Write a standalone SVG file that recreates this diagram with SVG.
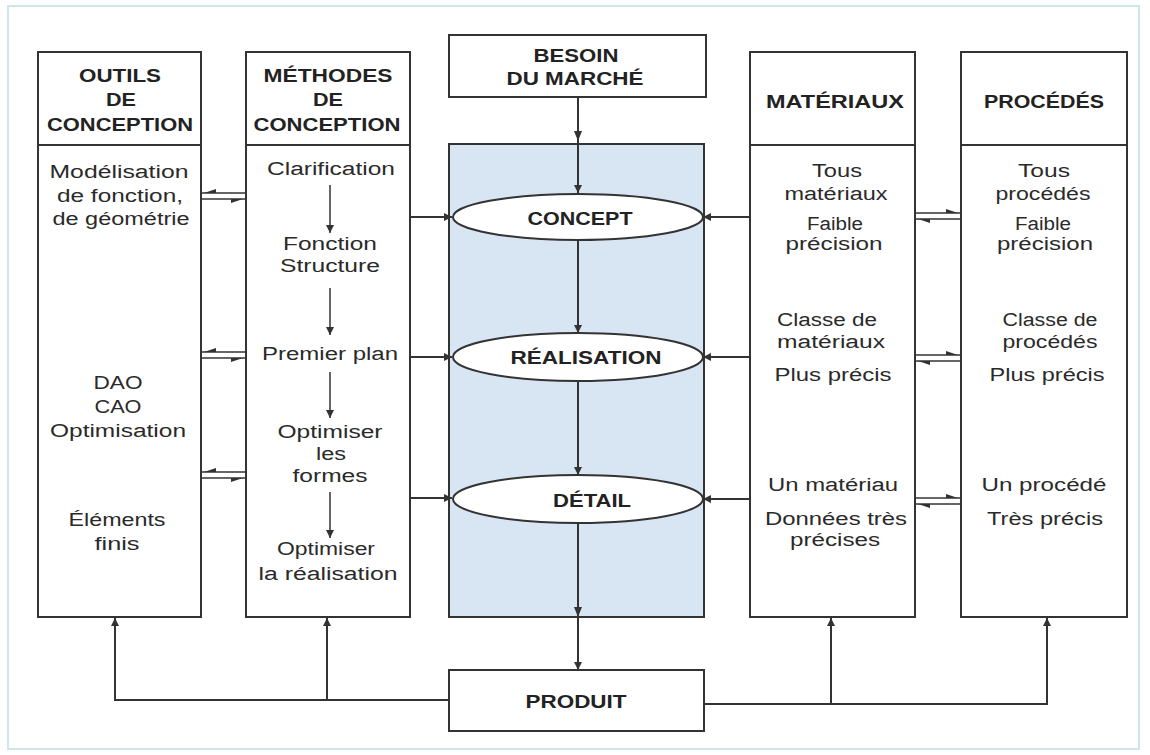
<svg xmlns="http://www.w3.org/2000/svg" width="1150" height="755" viewBox="0 0 1150 755">
<defs>
<style>
.box{fill:#fff;stroke:#333;stroke-width:2}
.blue{fill:#d8e5f3;stroke:#333;stroke-width:2}
.ell{fill:#fff;stroke:#333;stroke-width:2}
.ln{fill:none;stroke:#333;stroke-width:2}
.tn{fill:none;stroke:#333;stroke-width:1.5}
.hd{font-family:"Liberation Sans",Arial,sans-serif;font-weight:bold;font-size:18.5px;fill:#222;text-anchor:middle}
.tx{font-family:"Liberation Sans",Arial,sans-serif;font-size:18px;fill:#2a2a2a;text-anchor:middle}
.ah{fill:#333}
</style>
<marker id="arr" viewBox="0 0 10 10" refX="10" refY="5" markerWidth="9" markerHeight="8" markerUnits="userSpaceOnUse" orient="auto">
<path d="M0,0 L10,5 L0,10 Z" fill="#333"/>
</marker>
</defs>
<rect x="0" y="0" width="1150" height="755" fill="#fff"/>
<rect x="8" y="6" width="1131" height="743" fill="none" stroke="#cfe6e8" stroke-width="2"/>

<g id="outils">
<rect class="box" x="38" y="52" width="163" height="565"/>
<line class="ln" x1="38" y1="145" x2="201" y2="145"/>
<text class="hd" x="120" y="82" textLength="82" lengthAdjust="spacingAndGlyphs">OUTILS</text>
<text class="hd" x="121" y="106" textLength="30" lengthAdjust="spacingAndGlyphs">DE</text>
<text class="hd" x="120" y="131" textLength="146" lengthAdjust="spacingAndGlyphs">CONCEPTION</text>
<text class="tx" x="119" y="178" textLength="139" lengthAdjust="spacingAndGlyphs">Modélisation</text>
<text class="tx" x="120" y="202" textLength="126" lengthAdjust="spacingAndGlyphs">de fonction,</text>
<text class="tx" x="121" y="225" textLength="137" lengthAdjust="spacingAndGlyphs">de géométrie</text>
<text class="tx" x="118" y="389" textLength="49" lengthAdjust="spacingAndGlyphs">DAO</text>
<text class="tx" x="118" y="413" textLength="47" lengthAdjust="spacingAndGlyphs">CAO</text>
<text class="tx" x="118" y="437" textLength="136" lengthAdjust="spacingAndGlyphs">Optimisation</text>
<text class="tx" x="117" y="526" textLength="97" lengthAdjust="spacingAndGlyphs">Éléments</text>
<text class="tx" x="117" y="550" textLength="45" lengthAdjust="spacingAndGlyphs">finis</text>
</g>

<g id="methodes">
<rect class="box" x="246" y="52" width="164" height="565"/>
<line class="ln" x1="246" y1="145" x2="410" y2="145"/>
<text class="hd" x="328" y="82" textLength="129" lengthAdjust="spacingAndGlyphs">MÉTHODES</text>
<text class="hd" x="328" y="106" textLength="30" lengthAdjust="spacingAndGlyphs">DE</text>
<text class="hd" x="327" y="131" textLength="147" lengthAdjust="spacingAndGlyphs">CONCEPTION</text>
<text class="tx" x="331" y="175" textLength="128" lengthAdjust="spacingAndGlyphs">Clarification</text>
<text class="tx" x="330" y="250" textLength="94" lengthAdjust="spacingAndGlyphs">Fonction</text>
<text class="tx" x="330" y="272" textLength="100" lengthAdjust="spacingAndGlyphs">Structure</text>
<text class="tx" x="330" y="360" textLength="136" lengthAdjust="spacingAndGlyphs">Premier plan</text>
<text class="tx" x="330" y="438" textLength="105" lengthAdjust="spacingAndGlyphs">Optimiser</text>
<text class="tx" x="331" y="460" textLength="30" lengthAdjust="spacingAndGlyphs">les</text>
<text class="tx" x="330" y="482" textLength="75" lengthAdjust="spacingAndGlyphs">formes</text>
<text class="tx" x="326" y="555" textLength="98" lengthAdjust="spacingAndGlyphs">Optimiser</text>
<text class="tx" x="328" y="580" textLength="139" lengthAdjust="spacingAndGlyphs">la réalisation</text>
<line class="tn" x1="330" y1="185" x2="330" y2="233" marker-end="url(#arr)"/>
<line class="tn" x1="330" y1="288" x2="330" y2="335" marker-end="url(#arr)"/>
<line class="tn" x1="330" y1="372" x2="330" y2="418" marker-end="url(#arr)"/>
<line class="tn" x1="330" y1="492" x2="330" y2="538" marker-end="url(#arr)"/>
</g>

<g id="besoin">
<rect class="box" x="449" y="35" width="257" height="62"/>
<text class="hd" x="576" y="62" textLength="85" lengthAdjust="spacingAndGlyphs">BESOIN</text>
<text class="hd" x="575" y="85" textLength="137" lengthAdjust="spacingAndGlyphs">DU MARCHÉ</text>
</g>

<g id="centre">
<rect class="blue" x="449" y="144" width="255" height="473"/>
</g>

<g id="connectors">
<line class="ln" x1="578" y1="97" x2="578" y2="193" marker-end="url(#arr)"/>
<polygon class="ah" points="574,131 582,131 578,141"/>
<line class="ln" x1="578" y1="240" x2="578" y2="333" marker-end="url(#arr)"/>
<line class="ln" x1="578" y1="381" x2="578" y2="475" marker-end="url(#arr)"/>
<line class="ln" x1="578" y1="523" x2="578" y2="670" marker-end="url(#arr)"/>
<polygon class="ah" points="574,607 582,607 578,617"/>
<line class="ln" x1="410" y1="217" x2="452" y2="217" marker-end="url(#arr)"/>
<line class="ln" x1="410" y1="357" x2="452" y2="357" marker-end="url(#arr)"/>
<line class="ln" x1="410" y1="498" x2="452" y2="498" marker-end="url(#arr)"/>
<line class="ln" x1="750" y1="217" x2="703" y2="217" marker-end="url(#arr)"/>
<line class="ln" x1="750" y1="357" x2="703" y2="357" marker-end="url(#arr)"/>
<line class="ln" x1="750" y1="499" x2="703" y2="499" marker-end="url(#arr)"/>
<line class="tn" x1="201" y1="193" x2="246" y2="193"/>
<line class="tn" x1="201" y1="199" x2="246" y2="199"/>
<polygon class="ah" points="204,193 216,189 216,193"/>
<polygon class="ah" points="243,199 231,203 231,199"/>
<line class="tn" x1="201" y1="352" x2="246" y2="352"/>
<line class="tn" x1="201" y1="358" x2="246" y2="358"/>
<polygon class="ah" points="204,352 216,348 216,352"/>
<polygon class="ah" points="243,358 231,362 231,358"/>
<line class="tn" x1="201" y1="472" x2="246" y2="472"/>
<line class="tn" x1="201" y1="478" x2="246" y2="478"/>
<polygon class="ah" points="204,472 216,468 216,472"/>
<polygon class="ah" points="243,478 231,482 231,478"/>
<line class="tn" x1="915" y1="213" x2="961" y2="213"/>
<line class="tn" x1="915" y1="219" x2="961" y2="219"/>
<polygon class="ah" points="958,213 946,209 946,213"/>
<polygon class="ah" points="918,219 930,223 930,219"/>
<line class="tn" x1="915" y1="355" x2="961" y2="355"/>
<line class="tn" x1="915" y1="361" x2="961" y2="361"/>
<polygon class="ah" points="958,355 946,351 946,355"/>
<polygon class="ah" points="918,361 930,365 930,361"/>
<line class="tn" x1="915" y1="498" x2="961" y2="498"/>
<line class="tn" x1="915" y1="504" x2="961" y2="504"/>
<polygon class="ah" points="958,498 946,494 946,498"/>
<polygon class="ah" points="918,504 930,508 930,504"/>
<polyline class="ln" points="449,700 115,700 115,618" marker-end="url(#arr)"/>
<line class="ln" x1="327" y1="700" x2="327" y2="618" marker-end="url(#arr)"/>
<polyline class="ln" points="704,704 1047,704 1047,618" marker-end="url(#arr)"/>
<line class="ln" x1="831" y1="704" x2="831" y2="618" marker-end="url(#arr)"/>
</g>

<g id="concept">
<ellipse class="ell" cx="578" cy="217" rx="125" ry="23"/>
<text class="hd" x="580" y="225" textLength="105" lengthAdjust="spacingAndGlyphs">CONCEPT</text>
</g>
<g id="realisation">
<ellipse class="ell" cx="578" cy="357" rx="125" ry="24"/>
<text class="hd" x="586" y="364" textLength="151" lengthAdjust="spacingAndGlyphs">RÉALISATION</text>
</g>
<g id="detail">
<ellipse class="ell" cx="578" cy="499" rx="125" ry="24"/>
<text class="hd" x="592" y="507" textLength="78" lengthAdjust="spacingAndGlyphs">DÉTAIL</text>
</g>

<g id="materiaux">
<rect class="box" x="750" y="52" width="165" height="565"/>
<line class="ln" x1="750" y1="145" x2="915" y2="145"/>
<text class="hd" x="835" y="108" textLength="138" lengthAdjust="spacingAndGlyphs">MATÉRIAUX</text>
<text class="tx" x="837" y="177" textLength="50" lengthAdjust="spacingAndGlyphs">Tous</text>
<text class="tx" x="836" y="200" textLength="103" lengthAdjust="spacingAndGlyphs">matériaux</text>
<text class="tx" x="835" y="230" textLength="56" lengthAdjust="spacingAndGlyphs">Faible</text>
<text class="tx" x="834" y="250" textLength="97" lengthAdjust="spacingAndGlyphs">précision</text>
<text class="tx" x="827" y="326" textLength="100" lengthAdjust="spacingAndGlyphs">Classe de</text>
<text class="tx" x="831" y="348" textLength="108" lengthAdjust="spacingAndGlyphs">matériaux</text>
<text class="tx" x="833" y="381" textLength="117" lengthAdjust="spacingAndGlyphs">Plus précis</text>
<text class="tx" x="833" y="491" textLength="130" lengthAdjust="spacingAndGlyphs">Un matériau</text>
<text class="tx" x="836" y="525" textLength="142" lengthAdjust="spacingAndGlyphs">Données très</text>
<text class="tx" x="835" y="546" textLength="90" lengthAdjust="spacingAndGlyphs">précises</text>
</g>

<g id="procedes">
<rect class="box" x="961" y="52" width="166" height="565"/>
<line class="ln" x1="961" y1="145" x2="1127" y2="145"/>
<text class="hd" x="1044" y="108" textLength="120" lengthAdjust="spacingAndGlyphs">PROCÉDÉS</text>
<text class="tx" x="1044" y="177" textLength="52" lengthAdjust="spacingAndGlyphs">Tous</text>
<text class="tx" x="1043" y="200" textLength="95" lengthAdjust="spacingAndGlyphs">procédés</text>
<text class="tx" x="1043" y="230" textLength="56" lengthAdjust="spacingAndGlyphs">Faible</text>
<text class="tx" x="1045" y="250" textLength="96" lengthAdjust="spacingAndGlyphs">précision</text>
<text class="tx" x="1050" y="326" textLength="95" lengthAdjust="spacingAndGlyphs">Classe de</text>
<text class="tx" x="1050" y="348" textLength="95" lengthAdjust="spacingAndGlyphs">procédés</text>
<text class="tx" x="1047" y="381" textLength="115" lengthAdjust="spacingAndGlyphs">Plus précis</text>
<text class="tx" x="1044" y="491" textLength="125" lengthAdjust="spacingAndGlyphs">Un procédé</text>
<text class="tx" x="1045" y="525" textLength="116" lengthAdjust="spacingAndGlyphs">Très précis</text>
</g>

<g id="produit">
<rect class="box" x="449" y="670" width="255" height="61"/>
<text class="hd" x="576" y="708" textLength="101" lengthAdjust="spacingAndGlyphs">PRODUIT</text>
</g>
</svg>
